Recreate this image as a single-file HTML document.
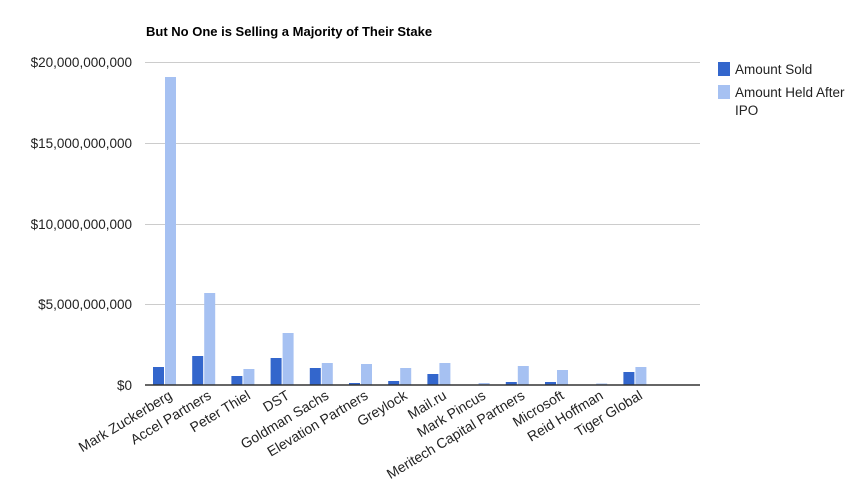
<!DOCTYPE html>
<html><head><style>
body{margin:0;background:#fff;}
svg{display:block;font-family:"Liberation Sans",Arial,sans-serif;}
</style></head><body>
<svg width="861" height="484" viewBox="0 0 861 484">
<text x="146" y="36" font-size="13" font-weight="bold" fill="#000">But No One is Selling a Majority of Their Stake</text>
<g stroke="#cccccc" stroke-width="1">
<line x1="145" x2="700" y1="62.5" y2="62.5"/>
<line x1="145" x2="700" y1="143.5" y2="143.5"/>
<line x1="145" x2="700" y1="224.5" y2="224.5"/>
<line x1="145" x2="700" y1="304.5" y2="304.5"/>
</g>
<g font-size="13.5" fill="#222" text-anchor="end">
<text x="132" y="67">$20,000,000,000</text>
<text x="132" y="148">$15,000,000,000</text>
<text x="132" y="229">$10,000,000,000</text>
<text x="132" y="309">$5,000,000,000</text>
<text x="132" y="390">$0</text>
</g>
<g id="bars"></g>
<line x1="145" x2="700" y1="385" y2="385" stroke="#333" stroke-width="1.5"/>
<g id="labels" font-size="14" fill="#222" text-anchor="end"></g>
<rect x="718" y="62" width="12" height="14" fill="#3366cc"/>
<text x="735" y="74" font-size="13.5" fill="#222">Amount Sold</text>
<rect x="718" y="85" width="12" height="14" fill="#a6c1f2"/>
<text x="735" y="97" font-size="13.5" fill="#222">Amount Held After</text>
<text x="735" y="115" font-size="13.5" fill="#222">IPO</text>
</svg>
<script>
var names=["Mark Zuckerberg","Accel Partners","Peter Thiel","DST","Goldman Sachs","Elevation Partners","Greylock","Mail.ru","Mark Pincus","Meritech Capital Partners","Microsoft","Reid Hoffman","Tiger Global"];
var d=[367,356,376,358,368,383,381,374,385,382,382,385,372];
var l=[77,293,369,333,363,364,368,363,383,366,370,383.5,367];
var ns="http://www.w3.org/2000/svg",b=document.getElementById("bars"),lb=document.getElementById("labels");
for(var i=0;i<13;i++){
 var x=153+39.2*i;
 if(d[i]<385){var r=document.createElementNS(ns,"rect");r.setAttribute("x",x);r.setAttribute("y",d[i]);r.setAttribute("width",11);r.setAttribute("height",385-d[i]);r.setAttribute("fill","#3366cc");b.appendChild(r);}
 var r2=document.createElementNS(ns,"rect");r2.setAttribute("x",x+12);r2.setAttribute("y",l[i]);r2.setAttribute("width",11);r2.setAttribute("height",385-l[i]);r2.setAttribute("fill","#a6c1f2");b.appendChild(r2);
 var t=document.createElementNS(ns,"text");var cx=x+20,cy=398;t.setAttribute("x",cx);t.setAttribute("y",cy);t.setAttribute("transform","rotate(-31 "+cx+" "+cy+")");t.textContent=names[i];lb.appendChild(t);
}
</script>
</body></html>
